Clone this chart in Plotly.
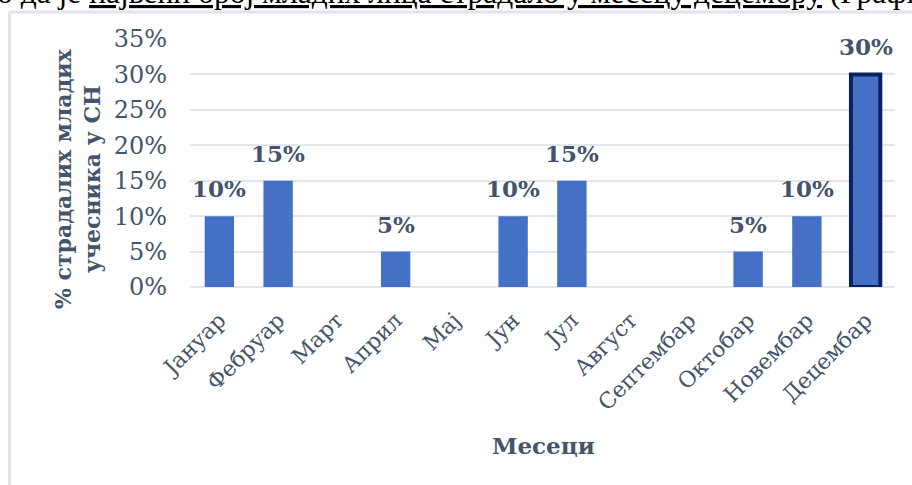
import plotly.graph_objects as go

# Share of young road-accident casualties by month
months = ["Јануар", "Фебруар", "Март", "Април", "Мај", "Јун",
          "Јул", "Август", "Септембар", "Октобар", "Новембар", "Децембар"]
shares = [0.10, 0.15, 0.0, 0.05, 0.0, 0.10, 0.15, 0.0, 0.0, 0.05, 0.10, 0.30]
y_ticks = [0.0, 0.05, 0.10, 0.15, 0.20, 0.25, 0.30, 0.35]

y_title = "% страдалих младих<br>учесника у СН"
x_title = "Месеци"
caption_lead = "о да је "
caption_marked = "највећи број младих лица страдало у месецу децембру"
caption_tail = " (Графикон"

W, H = 912, 485
ML, MR, MT, MB = 190, 17, 39, 198
PW, PH = W - ML - MR, H - MT - MB

TEXT = "#44546a"
FONT = "DejaVu Serif"
GRID = "#e3e6ec"
BAR = "#4470c6"
HIGHLIGHT = "#0b2160"


def px_x(px):
    return (px - ML) / PW


def px_y(py):
    return (H - MB - py) / PH


peak = max(shares)
line_w = [4 if v == peak else 0 for v in shares]
line_c = [HIGHLIGHT if v == peak else BAR for v in shares]

fig = go.Figure(go.Bar(
    x=months, y=shares,
    marker=dict(color=BAR, line=dict(color=line_c, width=line_w)),
    hoverinfo="skip",
))

# value labels above non-empty bars
for m, v in zip(months, shares):
    if v > 0:
        fig.add_annotation(
            x=m, y=v, xref="x", yref="y", text=f"<b>{v:.0%}</b>",
            showarrow=False, yanchor="bottom", yshift=12,
            font=dict(family=FONT, size=23, color=TEXT),
        )

# y axis title
fig.add_annotation(
    x=px_x(77), y=px_y(179), xref="paper", yref="paper",
    text=f"<b>{y_title}</b>", textangle=-90, showarrow=False,
    xanchor="center", yanchor="middle",
    font=dict(family=FONT, size=22, color=TEXT),
)
# x axis title
fig.add_annotation(
    x=px_x(543), y=px_y(445), xref="paper", yref="paper",
    text=f"<b>{x_title}</b>", showarrow=False,
    xanchor="center", yanchor="middle",
    font=dict(family=FONT, size=23, color=TEXT),
)
# running document text above the chart frame
fig.add_annotation(
    x=px_x(-5.5), y=px_y(-7), xref="paper", yref="paper",
    text=f"{caption_lead}<u>{caption_marked}</u>{caption_tail}",
    showarrow=False, xanchor="left", yanchor="middle",
    font=dict(family="Liberation Serif", size=31.5, color="#000000"),
)

# chart frame
frame = dict(color="#e1e4ea", width=3)
fig.add_shape(type="line", xref="paper", yref="paper",
              x0=px_x(9.5), x1=px_x(9.5), y0=px_y(12), y1=px_y(H + 10), line=frame)
fig.add_shape(type="line", xref="paper", yref="paper",
              x0=px_x(9.5), x1=px_x(W + 10), y0=px_y(12), y1=px_y(12), line=frame)

fig.update_layout(
    width=W, height=H,
    margin=dict(l=ML, r=MR, t=MT, b=MB),
    paper_bgcolor="white", plot_bgcolor="white",
    bargap=0.5, showlegend=False,
    font=dict(family=FONT, color=TEXT),
)
fig.update_xaxes(
    tickangle=-45, tickfont=dict(family=FONT, size=22, color=TEXT),
    showgrid=False, showline=False, ticks="", ticklabelstandoff=15,
)
fig.update_yaxes(
    range=[0, 0.35], tickvals=y_ticks, tickformat=".0%",
    tickfont=dict(family=FONT, size=24, color=TEXT),
    showgrid=True, gridcolor=GRID, gridwidth=1.5,
    zeroline=True, zerolinecolor=GRID, zerolinewidth=1.5,
    ticks="", ticklabelstandoff=22,
)

fig.write_html("out.html")
